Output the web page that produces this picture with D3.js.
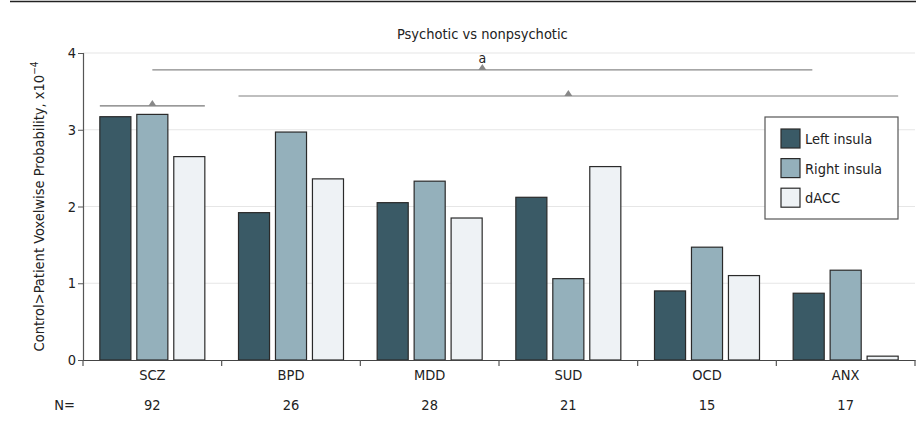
<!DOCTYPE html>
<html>
<head>
<meta charset="utf-8">
<script src="https://cdn.jsdelivr.net/npm/d3@7"></script>
<style>
body { margin: 0; background: #fff; }
svg text { font-family: "DejaVu Sans Condensed", "DejaVu Sans", sans-serif; fill: #222; }
</style>
</head>
<body>
<svg></svg>
<script>
var categories = ["SCZ", "BPD", "MDD", "SUD", "OCD", "ANX"]
var counts = [92, 26, 28, 21, 15, 17]
var seriesNames = ["Left insula", "Right insula", "dACC"]
var leftInsula = [3.17, 1.92, 2.05, 2.12, 0.90, 0.87]
var rightInsula = [3.20, 2.97, 2.33, 1.06, 1.47, 1.17]
var dacc = [2.65, 2.36, 1.85, 2.52, 1.10, 0.05]
var yTicks = [0, 1, 2, 3, 4]

var colors = ["#3a5a66", "#94b0bb", "#eef2f5"]
var screen = {width: 916, height: 427}
var margin = {left: 83, right: 1, top: 53, bottom: 67}

var svg = d3.select("svg")
    .attr("width", screen.width)
    .attr("height", screen.height)

// top rule
svg.append("line")
    .attr("x1", 10).attr("x2", screen.width)
    .attr("y1", 1.5).attr("y2", 1.5)
    .attr("stroke", "#222").attr("stroke-width", 1.5)

var xScale = d3.scaleBand()
    .domain(categories)
    .range([margin.left, screen.width - margin.right])

var yScale = d3.scaleLinear()
    .domain([0, 4])
    .range([screen.height - margin.bottom, margin.top])

var inner = d3.scaleBand()
    .domain(seriesNames)
    .range([0, 105])
    .paddingInner(0.16)

// gridlines
svg.append("g")
    .selectAll("line")
    .data(yTicks.slice(1))
    .enter()
    .append("line")
    .attr("x1", margin.left).attr("x2", screen.width - margin.right)
    .attr("y1", function(d) { return yScale(d) })
    .attr("y2", function(d) { return yScale(d) })
    .attr("stroke", "#e6e6e6").attr("stroke-width", 1.2)

// bars
var rows = categories.map(function(c, i) {
    return {cat: c, values: [leftInsula[i], rightInsula[i], dacc[i]]}
})

var groupLeft = function(c) { return xScale(c) + (xScale.bandwidth() - 105) / 2 }

var groups = svg.append("g")
    .selectAll("g")
    .data(rows)
    .enter()
    .append("g")
    .attr("transform", function(d) { return "translate(" + groupLeft(d.cat) + ",0)" })

groups.selectAll("rect")
    .data(function(d) {
        return d.values.map(function(v, j) { return {name: seriesNames[j], v: v, j: j} })
    })
    .enter()
    .append("rect")
    .attr("x", function(d) { return inner(d.name) })
    .attr("width", inner.bandwidth())
    .attr("y", function(d) { return yScale(d.v) })
    .attr("height", function(d) { return yScale(0) - yScale(d.v) })
    .attr("fill", function(d) { return colors[d.j] })
    .attr("stroke", "#2a2a2a")
    .attr("stroke-width", 1.2)

// y axis
var yAxis = svg.append("g")
    .attr("transform", "translate(" + margin.left + ",0)")
    .call(d3.axisLeft(yScale).tickValues(yTicks).tickSize(5).tickFormat(d3.format("d")))
yAxis.select(".domain").attr("stroke", "#555").attr("stroke-width", 1.2)
yAxis.selectAll(".tick line").attr("stroke", "#555")
yAxis.selectAll("text")
    .attr("font-size", 14.5)
    .style("font-family", "'DejaVu Sans Condensed', sans-serif")
    .attr("fill", "#222")
    .attr("x", -7)

// x axis
var xAxis = svg.append("g")
    .attr("transform", "translate(0," + yScale(0) + ")")
    .call(d3.axisBottom(xScale).tickSize(0).tickPadding(10))
xAxis.select(".domain").attr("stroke", "#444").attr("stroke-width", 1.2)
xAxis.selectAll("text")
    .attr("font-size", 14.5)
    .style("font-family", "'DejaVu Sans Condensed', sans-serif")
    .attr("fill", "#222")

// category edge ticks
var edges = categories.map(function(c) { return xScale(c) }).concat([xScale.range()[1]])
svg.append("g")
    .selectAll("line")
    .data(edges)
    .enter()
    .append("line")
    .attr("x1", function(d) { return d }).attr("x2", function(d) { return d })
    .attr("y1", yScale(0)).attr("y2", yScale(0) + 6)
    .attr("stroke", "#555").attr("stroke-width", 1.2)

// N row
svg.append("text")
    .attr("x", 75).attr("y", 410)
    .attr("text-anchor", "end")
    .attr("font-size", 14.5)
    .text("N=")
svg.append("g")
    .selectAll("text")
    .data(counts)
    .enter()
    .append("text")
    .attr("x", function(d, i) { return xScale(categories[i]) + xScale.bandwidth() / 2 })
    .attr("y", 410)
    .attr("text-anchor", "middle")
    .attr("font-size", 14.5)
    .text(function(d) { return d })

// y label
svg.append("text")
    .attr("transform", "translate(44," + ((yScale(0) + yScale(4)) / 2) + ") rotate(-90)")
    .attr("text-anchor", "middle")
    .attr("font-size", 14.5)
    .text("Control>Patient Voxelwise Probability, x10")
    .append("tspan")
    .attr("dy", -6)
    .attr("font-size", 10)
    .text("\u22124")

// significance brackets
var brackets = [
    {x1: groupLeft("SCZ"), x2: groupLeft("SCZ") + 105, y: 3.31, color: "#777"},
    {x1: groupLeft("SCZ") + 105 / 2, x2: xScale("ANX") + 36, y: 3.78, color: "#888"},
    {x1: groupLeft("BPD"), x2: groupLeft("ANX") + 105, y: 3.44, color: "#aaa"}
]
brackets.forEach(function(b) {
    var yy = yScale(b.y)
    var cx = (b.x1 + b.x2) / 2
    svg.append("line")
        .attr("x1", b.x1).attr("x2", b.x2)
        .attr("y1", yy).attr("y2", yy)
        .attr("stroke", b.color).attr("stroke-width", 1.3)
    svg.append("path")
        .attr("d", "M" + (cx - 4) + "," + yy + "L" + (cx + 4) + "," + yy + "L" + cx + "," + (yy - 6) + "Z")
        .attr("fill", "#888")
})
var topB = brackets[1]
svg.append("text")
    .attr("x", (topB.x1 + topB.x2) / 2).attr("y", yScale(topB.y) - 7)
    .attr("text-anchor", "middle").attr("font-size", 14)
    .text("a")
svg.append("text")
    .attr("x", (topB.x1 + topB.x2) / 2).attr("y", 39)
    .attr("text-anchor", "middle").attr("font-size", 14.5)
    .text("Psychotic vs nonpsychotic")

// legend
var legend = svg.append("g").attr("transform", "translate(765,117)")
legend.append("rect")
    .attr("width", 133).attr("height", 102)
    .attr("fill", "#fff").attr("stroke", "#555").attr("stroke-width", 1.2)
var items = legend.selectAll("g.item")
    .data(seriesNames)
    .enter()
    .append("g")
    .attr("transform", function(d, i) { return "translate(16," + (12 + i * 29.6) + ")" })
items.append("rect")
    .attr("width", 19).attr("height", 19)
    .attr("fill", function(d, i) { return colors[i] })
    .attr("stroke", "#2a2a2a").attr("stroke-width", 1.2)
items.append("text")
    .attr("x", 24).attr("y", 15)
    .attr("font-size", 14.5)
    .text(function(d) { return d })
</script>
</body>
</html>
